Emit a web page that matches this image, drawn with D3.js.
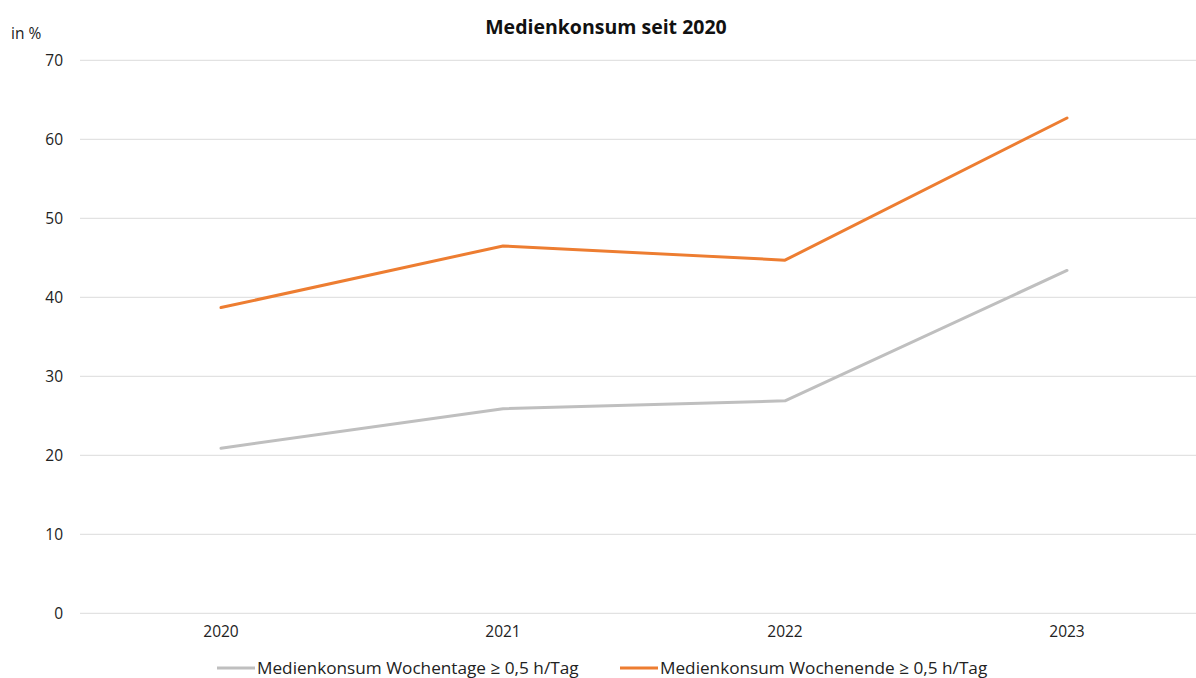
<!DOCTYPE html>
<html>
<head>
<meta charset="utf-8">
<script src="https://cdn.jsdelivr.net/npm/d3@7"></script>
<style>
  html, body { margin: 0; padding: 0; background: #fff; }
  svg { display: block; font-family: "Open Sans", Lato, sans-serif; }
</style>
</head>
<body>
<svg id="chart" width="1196" height="678"></svg>
<script>
// Jahre und Anteile (in %)
const years = ["2020", "2021", "2022", "2023"];
const wochentage = [20.9, 25.9, 26.9, 43.4];
const wochenende = [38.7, 46.5, 44.7, 62.7];
const yTicks = [0, 10, 20, 30, 40, 50, 60, 70];
const seriesNames = ["Medienkonsum Wochentage ≥ 0,5 h/Tag", "Medienkonsum Wochenende ≥ 0,5 h/Tag"];
const seriesColors = ["#BFBFBF", "#ED7D31"];

const svg = d3.select("#chart");
const W = 1196;
const plotLeft = 80, plotTop = 60.3, plotBottom = 613.3;
const font = "'Open Sans', Lato, sans-serif";

const x = d3.scaleBand().domain(years).range([plotLeft, plotLeft + 4 * 282]).paddingInner(0).paddingOuter(0);
const y = d3.scaleLinear().domain([0, 70]).range([plotBottom, plotTop]);

// Gitterlinien
svg.append("g")
  .selectAll("line")
  .data(yTicks)
  .join("line")
  .attr("x1", plotLeft).attr("x2", W)
  .attr("y1", d => y(d)).attr("y2", d => y(d))
  .attr("stroke", "#e2e2e2").attr("stroke-width", 1.3);

// Y-Achse
const yAxis = svg.append("g")
  .attr("transform", `translate(${plotLeft},0)`)
  .call(d3.axisLeft(y).tickValues(yTicks).tickSize(0).tickPadding(17));
yAxis.select(".domain").remove();
yAxis.selectAll("text").attr("font-size", 15.5).attr("fill", "#222").attr("font-family", font);

// X-Achse
const xAxis = svg.append("g")
  .attr("transform", `translate(0,${plotBottom})`)
  .call(d3.axisBottom(x).tickSize(0).tickPadding(13));
xAxis.select(".domain").remove();
xAxis.selectAll("text").attr("font-size", 15.5).attr("fill", "#222").attr("font-family", font);

// Linien
const line = d3.line()
  .x((d, i) => x(years[i]) + x.bandwidth() / 2)
  .y(d => y(d));

[wochentage, wochenende].forEach((vals, i) => {
  svg.append("path")
    .datum(vals)
    .attr("d", line)
    .attr("fill", "none")
    .attr("stroke", seriesColors[i])
    .attr("stroke-width", 3)
    .attr("stroke-linejoin", "round")
    .attr("stroke-linecap", "round");
});

// Titel
svg.append("text")
  .attr("x", 606).attr("y", 34)
  .attr("text-anchor", "middle")
  .attr("font-size", 19.5).attr("font-weight", "bold").attr("fill", "#111")
  .text("Medienkonsum seit 2020");

// Einheit
svg.append("text")
  .attr("x", 11).attr("y", 39)
  .attr("font-size", 15.5).attr("fill", "#222")
  .text("in %");

// Legende
const legendX = [217, 620];
seriesNames.forEach((name, i) => {
  const g = svg.append("g").attr("transform", `translate(${legendX[i]},668)`);
  g.append("line")
    .attr("x1", 0).attr("x2", 38).attr("y1", 0).attr("y2", 0)
    .attr("stroke", seriesColors[i]).attr("stroke-width", 3);
  g.append("text")
    .attr("x", 40).attr("y", 5.5)
    .attr("font-size", 17.2).attr("fill", "#222")
    .text(name);
});
</script>
</body>
</html>
